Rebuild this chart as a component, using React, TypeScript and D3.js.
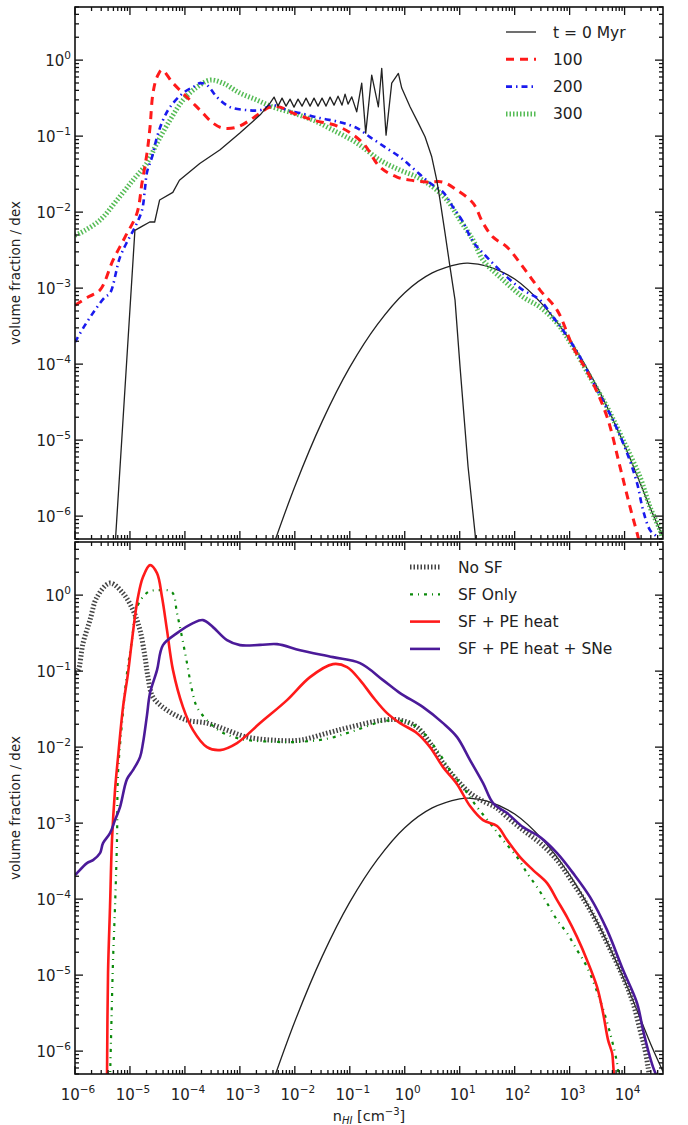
import React from "react";
import * as d3 from "d3";

type P = [number, number]; // [log10 n_HI, log10 volume fraction]

const xTickExponents = [-6, -5, -4, -3, -2, -1, 0, 1, 2, 3, 4];
const yTickExponents = [0, -1, -2, -3, -4, -5, -6];
const topLegendLabels = ["t = 0 Myr", "100", "200", "300"];
const bottomLegendLabels = ["No SF", "SF Only", "SF + PE heat", "SF + PE heat + SNe"];

const t0Main: P[] = [
  [-5.28, -6.5], [-4.91, -2.24], [-4.79, -2.19], [-4.64, -2.13], [-4.55, -2.13], [-4.46, -1.84],
  [-4.22, -1.74], [-4.1, -1.58], [-3.73, -1.36], [-3.36, -1.18], [-3.0, -0.96], [-2.63, -0.72],
  [-2.451, -0.566], [-2.378, -0.487], [-2.306, -0.605], [-2.233, -0.5], [-2.16, -0.605], [-2.087, -0.513],
  [-2.015, -0.618], [-1.942, -0.513], [-1.869, -0.605], [-1.796, -0.5], [-1.723, -0.605], [-1.651, -0.5],
  [-1.578, -0.605], [-1.505, -0.5], [-1.432, -0.605], [-1.359, -0.487], [-1.287, -0.592], [-1.214, -0.474],
  [-1.141, -0.592], [-1.086, -0.447], [-1.032, -0.579], [-0.964, -0.483], [-0.874, -0.68], [-0.783, -0.303],
  [-0.71, -0.961], [-0.601, -0.197], [-0.48, -0.614], [-0.419, -0.109], [-0.34, -0.987], [-0.237, -0.303],
  [-0.116, -0.175], [-0.055, -0.368], [0.096, -0.614], [0.247, -0.829], [0.369, -1.009], [0.491, -1.272],
  [0.582, -1.579], [0.642, -1.842], [0.733, -2.276], [0.824, -2.724], [0.915, -3.158], [1.006, -4.036],
  [1.152, -5.351], [1.279, -6.224], [1.316, -6.58],
];

const analytic: P[] = [
  [-2.5, -6.61], [-2.0, -5.61], [-1.5, -4.75], [-1.0, -4.04], [-0.5, -3.48], [0.0, -3.06], [0.5, -2.8],
  [1.0, -2.68], [1.15, -2.67], [1.5, -2.71], [2.0, -2.88], [2.5, -3.21], [3.0, -3.68], [3.5, -4.3],
  [4.0, -5.07], [4.5, -5.95], [4.7, -6.27],
];

const t100: P[] = [
  [-6.0, -3.224], [-5.763, -3.118], [-5.545, -3.026], [-5.308, -2.632], [-5.09, -2.329], [-4.872, -2.013],
  [-4.781, -1.618], [-4.69, -1.224], [-4.635, -0.882], [-4.581, -0.434], [-4.508, -0.224], [-4.417, -0.132],
  [-4.217, -0.303], [-3.962, -0.487], [-3.725, -0.658], [-3.489, -0.829], [-3.307, -0.895], [-3.052, -0.882],
  [-2.815, -0.789], [-2.633, -0.697], [-2.451, -0.618], [-2.269, -0.618], [-2.033, -0.697], [-1.669, -0.789],
  [-1.177, -0.882], [-0.759, -1.092], [-0.45, -1.408], [-0.14, -1.539], [0.096, -1.579], [0.406, -1.605],
  [0.697, -1.605], [0.952, -1.711], [1.243, -1.882], [1.425, -2.145], [1.607, -2.329], [1.862, -2.461],
  [2.153, -2.724], [2.462, -3.026], [2.772, -3.289], [3.063, -3.776], [3.372, -4.171], [3.682, -4.697],
  [3.918, -5.355], [4.1, -5.882], [4.228, -6.224], [4.282, -6.38],
];

const t200: P[] = [
  [-6.0, -3.711], [-5.818, -3.487], [-5.636, -3.289], [-5.454, -3.118], [-5.363, -3.066], [-5.181, -2.592],
  [-5.035, -2.368], [-4.908, -2.197], [-4.781, -1.974], [-4.726, -1.684], [-4.69, -1.474], [-4.599, -1.276],
  [-4.508, -1.013], [-4.399, -0.789], [-4.271, -0.618], [-4.035, -0.434], [-3.853, -0.355], [-3.725, -0.303],
  [-3.598, -0.329], [-3.416, -0.487], [-3.179, -0.618], [-2.87, -0.658], [-2.633, -0.658], [-2.397, -0.592],
  [-2.142, -0.658], [-1.905, -0.697], [-1.542, -0.763], [-1.177, -0.816], [-0.868, -0.895], [-0.632, -1.013],
  [-0.359, -1.145], [-0.086, -1.276], [0.187, -1.447], [0.46, -1.618], [0.697, -1.737], [0.879, -1.934],
  [1.061, -2.132], [1.243, -2.39], [1.425, -2.539], [1.862, -2.855], [2.153, -3.026], [2.462, -3.158],
  [2.699, -3.382], [2.88, -3.553], [3.19, -3.908], [3.499, -4.342], [3.79, -4.737], [4.045, -5.171],
  [4.227, -5.566], [4.336, -5.921], [4.463, -6.184], [4.591, -6.276], [4.682, -6.38],
];

const t300: P[] = [
  [-6.0, -2.303], [-5.909, -2.276], [-5.545, -2.105], [-5.236, -1.842], [-4.944, -1.579], [-4.69, -1.355],
  [-4.508, -1.092], [-4.271, -0.789], [-4.035, -0.526], [-3.78, -0.355], [-3.543, -0.263], [-3.307, -0.303],
  [-2.997, -0.434], [-2.688, -0.526], [-2.397, -0.618], [-2.033, -0.697], [-1.669, -0.789], [-1.305, -0.921],
  [-0.868, -1.092], [-0.45, -1.316], [-0.086, -1.447], [0.224, -1.539], [0.515, -1.671], [0.77, -1.842],
  [1.006, -2.105], [1.243, -2.368], [1.425, -2.632], [1.734, -2.855], [2.153, -3.118], [2.462, -3.25],
  [2.772, -3.461], [3.063, -3.776], [3.372, -4.171], [3.682, -4.566], [3.973, -5.0], [4.282, -5.487],
  [4.463, -5.882], [4.645, -6.184], [4.718, -6.38],
];

const noSF: P[] = [
  [-6.0, -1.013], [-5.945, -0.987], [-5.854, -0.632], [-5.727, -0.329], [-5.6, -0.026], [-5.363, 0.158],
  [-5.127, 0.026], [-4.945, -0.197], [-4.817, -0.461], [-4.726, -0.816], [-4.672, -1.079], [-4.581, -1.342],
  [-4.326, -1.513], [-3.962, -1.645], [-3.598, -1.684], [-3.234, -1.776], [-2.87, -1.868], [-2.397, -1.908],
  [-1.905, -1.908], [-1.414, -1.816], [-0.996, -1.737], [-0.395, -1.645], [-0.086, -1.645], [0.224, -1.737],
  [0.46, -1.947], [0.697, -2.211], [0.952, -2.434], [1.188, -2.605], [1.425, -2.711], [1.68, -2.803],
  [1.862, -2.921], [2.153, -3.092], [2.462, -3.263], [2.772, -3.487], [3.063, -3.789], [3.372, -4.145],
  [3.682, -4.579], [3.973, -5.026], [4.154, -5.368], [4.282, -5.724], [4.373, -5.987], [4.427, -6.211],
  [4.463, -6.38],
];

const sfOnly: P[] = [
  [-5.363, -6.38], [-5.345, -5.855], [-5.308, -4.803], [-5.272, -4.105], [-5.236, -3.224], [-5.217, -2.342],
  [-5.145, -1.684], [-5.054, -1.026], [-4.963, -0.592], [-4.872, -0.158], [-4.672, 0.039], [-4.453, 0.066],
  [-4.235, 0.039], [-4.144, -0.237], [-4.053, -0.553], [-3.962, -0.895], [-3.871, -1.25], [-3.78, -1.474],
  [-3.598, -1.645], [-3.361, -1.79], [-2.997, -1.89], [-2.397, -1.93], [-1.905, -1.93], [-1.414, -1.89],
  [-0.941, -1.79], [-0.395, -1.66], [-0.086, -1.65], [0.224, -1.737], [0.588, -2.039], [0.824, -2.303],
  [1.061, -2.526], [1.316, -2.789], [1.552, -3.0], [1.789, -3.224], [2.044, -3.447], [2.226, -3.658],
  [2.408, -3.842], [2.59, -4.053], [2.772, -4.276], [2.953, -4.447], [3.136, -4.671], [3.317, -4.895],
  [3.554, -5.329], [3.736, -5.763], [3.863, -6.158], [3.9, -6.38],
];

const sfPE: P[] = [
  [-5.418, -6.38], [-5.399, -4.974], [-5.363, -4.105], [-5.327, -3.224], [-5.272, -2.566], [-5.217, -2.132],
  [-5.126, -1.474], [-5.035, -1.026], [-4.963, -0.592], [-4.854, -0.026], [-4.763, 0.237], [-4.635, 0.395],
  [-4.508, 0.289], [-4.417, -0.026], [-4.326, -0.461], [-4.217, -0.987], [-4.035, -1.474], [-3.853, -1.776],
  [-3.598, -2.0], [-3.361, -2.039], [-3.052, -1.947], [-2.633, -1.684], [-2.142, -1.382], [-1.724, -1.079],
  [-1.305, -0.908], [-1.05, -0.947], [-0.814, -1.118], [-0.577, -1.342], [-0.322, -1.553], [-0.086, -1.684],
  [0.224, -1.816], [0.46, -2.0], [0.697, -2.263], [0.952, -2.487], [1.188, -2.776], [1.425, -2.961],
  [1.68, -3.039], [1.862, -3.224], [2.098, -3.447], [2.335, -3.618], [2.59, -3.789], [2.772, -4.013],
  [2.953, -4.237], [3.136, -4.5], [3.317, -4.803], [3.5, -5.158], [3.609, -5.5], [3.7, -5.855],
  [3.773, -6.026], [3.791, -6.158], [3.809, -6.38],
];

const sfPESNe: P[] = [
  [-6.0, -3.684], [-5.964, -3.658], [-5.782, -3.526], [-5.672, -3.487], [-5.545, -3.395], [-5.49, -3.263],
  [-5.363, -3.132], [-5.272, -2.961], [-5.181, -2.789], [-5.054, -2.421], [-4.945, -2.303], [-4.817, -2.132],
  [-4.763, -1.947], [-4.69, -1.579], [-4.635, -1.289], [-4.508, -0.987], [-4.399, -0.658], [-4.144, -0.5],
  [-3.853, -0.368], [-3.671, -0.329], [-3.489, -0.421], [-3.234, -0.592], [-2.997, -0.658], [-2.633, -0.655],
  [-2.324, -0.645], [-1.905, -0.724], [-1.305, -0.816], [-0.814, -0.895], [-0.395, -1.118], [-0.086, -1.289],
  [0.333, -1.474], [0.697, -1.684], [0.952, -1.868], [1.188, -2.171], [1.425, -2.474], [1.607, -2.737],
  [1.862, -2.868], [2.153, -3.053], [2.462, -3.184], [2.772, -3.395], [3.063, -3.658], [3.372, -3.974],
  [3.682, -4.408], [3.973, -4.934], [4.227, -5.368], [4.336, -5.724], [4.427, -5.987], [4.518, -6.211],
  [4.591, -6.34],
];

type Style = { color: string; width: number; dash?: string };
type Series = { data: P[]; style: Style; smooth: boolean };

const FONT = "'DejaVu Sans', sans-serif";
const TXT = "#222";

const x = d3.scaleLog().domain([1e-6, 5e4]).range([75, 663]);
const yTopScale = d3.scaleLog().domain([5e-7, 5]).range([539, 7]);
const yBotScale = d3.scaleLog().domain([5e-7, 5]).range([1074, 542]);

const sBlack: Style = { color: "#222", width: 1.3 };
const sRedDash: Style = { color: "#ff1a1a", width: 3, dash: "8,6" };
const sBlueDD: Style = { color: "#1a1aee", width: 2.6, dash: "6,4,1.5,4" };
const sGreenDot: Style = { color: "#55bb55", width: 5, dash: "1.5,2" };
const sNoSF: Style = { color: "#444", width: 5, dash: "1.5,2" };
const sSFOnly: Style = { color: "#0b8a0b", width: 2.2, dash: "3,5,1,5" };
const sPE: Style = { color: "#ff1a1a", width: 2.6 };
const sSNe: Style = { color: "#4b1a99", width: 2.6 };

function Panel({ y, series, legend, legendX, textX, legendY0, id, showXLabels }: {
  y: d3.ScaleLogarithmic<number, number>; series: Series[]; legend: { label: string; style: Style }[];
  legendX: [number, number]; textX: number; legendY0: number; id: string; showXLabels: boolean;
}) {
  const [x0, x1] = x.range();
  const [yb, yt] = y.range();
  const lineS = d3.line<P>().x(d => x(Math.pow(10, d[0]))).y(d => y(Math.pow(10, d[1]))).curve(d3.curveCatmullRom.alpha(0.5));
  const lineL = d3.line<P>().x(d => x(Math.pow(10, d[0]))).y(d => y(Math.pow(10, d[1])));
  const xMajor: number[] = [];
  const xMinor: number[] = [];
  for (let e = -6; e <= 4; e++) {
    xMajor.push(Math.pow(10, e));
    for (let m = 2; m <= 9; m++) {
      const v = m * Math.pow(10, e);
      if (v < 5e4) xMinor.push(v);
    }
  }
  const yMajor: number[] = [];
  const yMinor: number[] = [];
  for (let e = -7; e <= 0; e++) {
    const v0 = Math.pow(10, e);
    if (v0 >= 5e-7 && v0 <= 5) yMajor.push(v0);
    for (let m = 2; m <= 9; m++) {
      const v = m * v0;
      if (v >= 5e-7 && v <= 5) yMinor.push(v);
    }
  }
  const maj = 8, mnr = 4;
  return (
    <g>
      <defs>
        <clipPath id={id}><rect x={x0} y={yt} width={x1 - x0} height={yb - yt} /></clipPath>
      </defs>
      <g clipPath={`url(#${id})`}>
        {series.map((s, i) => (
          <path key={i} d={(s.smooth ? lineS(s.data) : lineL(s.data)) || ""} fill="none" stroke={s.style.color}
            strokeWidth={s.style.width} strokeDasharray={s.style.dash} strokeLinejoin="round" />
        ))}
      </g>
      <g stroke="#111" strokeWidth={1.3}>
        {xMajor.map((v, i) => (
          <g key={"xm" + i}>
            <line x1={x(v)} x2={x(v)} y1={yb} y2={yb - maj} />
            <line x1={x(v)} x2={x(v)} y1={yt} y2={yt + maj} />
          </g>
        ))}
        {xMinor.map((v, i) => (
          <g key={"xn" + i}>
            <line x1={x(v)} x2={x(v)} y1={yb} y2={yb - mnr} />
            <line x1={x(v)} x2={x(v)} y1={yt} y2={yt + mnr} />
          </g>
        ))}
        {yMajor.map((v, i) => (
          <g key={"ym" + i}>
            <line x1={x0} x2={x0 + maj} y1={y(v)} y2={y(v)} />
            <line x1={x1} x2={x1 - maj} y1={y(v)} y2={y(v)} />
          </g>
        ))}
        {yMinor.map((v, i) => (
          <g key={"yn" + i}>
            <line x1={x0} x2={x0 + mnr} y1={y(v)} y2={y(v)} />
            <line x1={x1} x2={x1 - mnr} y1={y(v)} y2={y(v)} />
          </g>
        ))}
      </g>
      <rect x={x0} y={yt} width={x1 - x0} height={yb - yt} fill="none" stroke="#111" strokeWidth={1.6} />
      {yTickExponents.map(e => (
        <text key={"yl" + e} x={x0 - 4} y={y(Math.pow(10, e)) + 6} textAnchor="end" fontFamily={FONT} fill={TXT} fontSize={15}>
          10<tspan fontSize={10.5} dy={-7}>{e === 0 ? "0" : "\u2212" + Math.abs(e)}</tspan>
        </text>
      ))}
      {showXLabels && xTickExponents.map(e => (
        <text key={"xl" + e} x={x(Math.pow(10, e)) + 3} y={yb + 26} textAnchor="middle" fontFamily={FONT} fill={TXT} fontSize={15}>
          10<tspan fontSize={10.5} dy={-7}>{e === 0 ? "0" : e > 0 ? String(e) : "\u2212" + Math.abs(e)}</tspan>
        </text>
      ))}
      <text transform={`translate(20,${(yt + yb) / 2}) rotate(-90)`} textAnchor="middle" fontFamily={FONT} fill={TXT} fontSize={13.5}>
        volume fraction / dex
      </text>
      {legend.map((l, i) => {
        const ly = legendY0 + i * 27.3;
        return (
          <g key={"lg" + i}>
            <line x1={legendX[0]} x2={legendX[1]} y1={ly} y2={ly} stroke={l.style.color} strokeWidth={l.style.width}
              strokeDasharray={l.style.dash} />
            <text x={textX} y={ly + 5.5} fontFamily={FONT} fill={TXT} fontSize={15.5}>{l.label}</text>
          </g>
        );
      })}
    </g>
  );
}

export default function App() {
  return (
    <svg width={688} height={1125} style={{ display: "block", position: "absolute", left: 0, top: 0, background: "#fff" }}>
      <rect x={0} y={0} width={688} height={1125} fill="#fff" />
      <Panel id="clipTop" y={yTopScale} showXLabels={false}
        series={[
          { data: analytic, style: sBlack, smooth: true },
          { data: t300, style: sGreenDot, smooth: true },
          { data: t200, style: sBlueDD, smooth: true },
          { data: t100, style: sRedDash, smooth: true },
          { data: t0Main, style: sBlack, smooth: false },
        ]}
        legend={[
          { label: topLegendLabels[0], style: sBlack },
          { label: topLegendLabels[1], style: sRedDash },
          { label: topLegendLabels[2], style: sBlueDD },
          { label: topLegendLabels[3], style: sGreenDot },
        ]}
        legendX={[506, 536]} textX={553} legendY0={32}
      />
      <Panel id="clipBot" y={yBotScale} showXLabels={true}
        series={[
          { data: analytic, style: sBlack, smooth: true },
          { data: noSF, style: sNoSF, smooth: true },
          { data: sfOnly, style: sSFOnly, smooth: true },
          { data: sfPE, style: sPE, smooth: true },
          { data: sfPESNe, style: sSNe, smooth: true },
        ]}
        legend={[
          { label: bottomLegendLabels[0], style: sNoSF },
          { label: bottomLegendLabels[1], style: sSFOnly },
          { label: bottomLegendLabels[2], style: sPE },
          { label: bottomLegendLabels[3], style: sSNe },
        ]}
        legendX={[410, 440]} textX={458} legendY0={567}
      />
      <text x={369} y={1121} textAnchor="middle" fontFamily={FONT} fill={TXT} fontSize={14.5}>
        n<tspan fontSize={10} dy={3} fontStyle="italic">HI</tspan><tspan dy={-3}> [cm</tspan>
        <tspan fontSize={10} dy={-6}>{"\u22123"}</tspan><tspan dy={6}>]</tspan>
      </text>
    </svg>
  );
}
